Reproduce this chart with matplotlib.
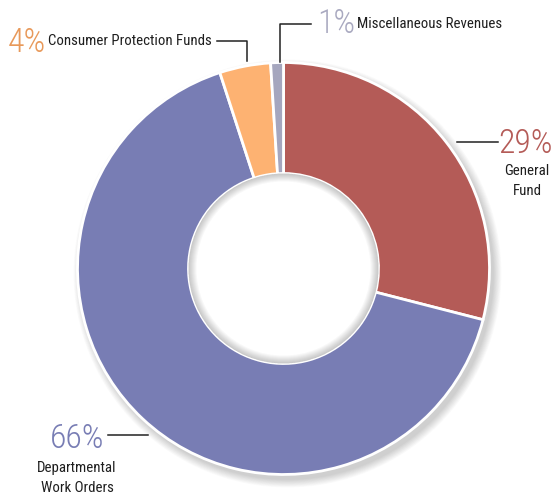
import statistics
import matplotlib.pyplot as plt
from matplotlib import font_manager
from matplotlib.patches import Circle, Wedge

labels = ['General\nFund', 'Departmental\nWork Orders', 'Consumer Protection Funds', 'Miscellaneous Revenues']
shares = [29, 66, 4, 1]
slice_colors = ['#b45b57', '#787db4', '#fdb272', '#a5a6be']
pct_colors = ['#b45b57', '#787db4', '#e8995a', '#a9a9c0']

# narrowest installed sans family
installed = {f.name for f in font_manager.fontManager.ttflist}
family = next(f for f in ['Roboto Condensed', 'Liberation Sans Narrow', 'DejaVu Sans Condensed',
                          'Open Sans Condensed', 'Roboto', 'Liberation Sans', 'DejaVu Sans']
              if f in installed)

W, H = 554, 495
fig = plt.figure(figsize=(W / 100, H / 100), dpi=100)
ax = fig.add_axes([0, 0, 1, 1])

cx, cy = 283.5, H - 268.5
r_out, r_in = 206, 95

# soft drop shadow behind the ring (offset down-right)
for i in range(12):
    ax.add_patch(Circle((cx + 4, cy - 5), r_out + 8 - i * 0.7, color='black',
                        alpha=0.014, lw=0, zorder=0))

ax.pie(shares, colors=slice_colors, startangle=90, counterclock=False,
       center=(cx, cy), radius=r_out, frame=True,
       wedgeprops=dict(width=r_out - r_in, edgecolor='white', linewidth=2))
ax.set_xlim(0, W)
ax.set_ylim(0, H)
ax.set_aspect('equal')
ax.axis('off')

# white hole with an inner shadow along its rim
ax.add_patch(Circle((cx, cy), r_in - 0.5, color='white', lw=0, zorder=2))
for i in range(1, 9):
    ax.add_patch(Wedge((cx, cy), r_in, 0, 360, width=i, color='black',
                       alpha=0.028, lw=0, zorder=3))


def yy(v):
    return H - v


line = dict(color='#222222', lw=1.1, zorder=5)
ax.plot([217, 247, 247], [yy(41), yy(41), yy(61)], **line)
ax.plot([280, 280, 311], [yy(62), yy(24), yy(24)], **line)
ax.plot([457, 498], [yy(142), yy(142)], **line)
ax.plot([108, 148], [yy(435), yy(435)], **line)

# (text, x, baseline, ha, colour, width it should take up)
gen, fund = labels[0].split('\n')
dep, wo = labels[1].split('\n')
big_texts = [
    (f'{shares[2]}%', 46, 52, 'right', pct_colors[2], 37),
    (f'{shares[3]}%', 317, 33, 'left', pct_colors[3], 31),
    (f'{shares[0]}%', 526, 153, 'center', pct_colors[0], 50),
    (f'{shares[1]}%', 77.5, 448, 'center', pct_colors[1], 51),
]
small_texts = [
    (labels[2], 212, 45, 'right', '#1e1e1e', 157),
    (labels[3], 357, 28, 'left', '#1e1e1e', 139),
    (gen, 527, 175, 'center', '#1e1e1e', 43),
    (fund, 527, 195, 'center', '#1e1e1e', 27),
    (dep, 76.5, 472, 'center', '#1e1e1e', 79),
    (wo, 77.5, 492, 'center', '#1e1e1e', 69),
]

renderer = fig.canvas.get_renderer()
for group, base, weight, boost in [(big_texts, 26, 'light', 1.08), (small_texts, 13, 'normal', 1.04)]:
    objs, ratios = [], []
    for s, x, y, ha, c, w in group:
        t = ax.text(x, yy(y), s, color=c, ha=ha, va='baseline', fontsize=base,
                    family=family, fontweight=weight, zorder=6)
        objs.append(t)
        ratios.append(w / t.get_window_extent(renderer).width)
    scale = statistics.median(ratios) * boost
    for t in objs:
        t.set_fontsize(base * scale)

fig.savefig('out.png', dpi=100)
